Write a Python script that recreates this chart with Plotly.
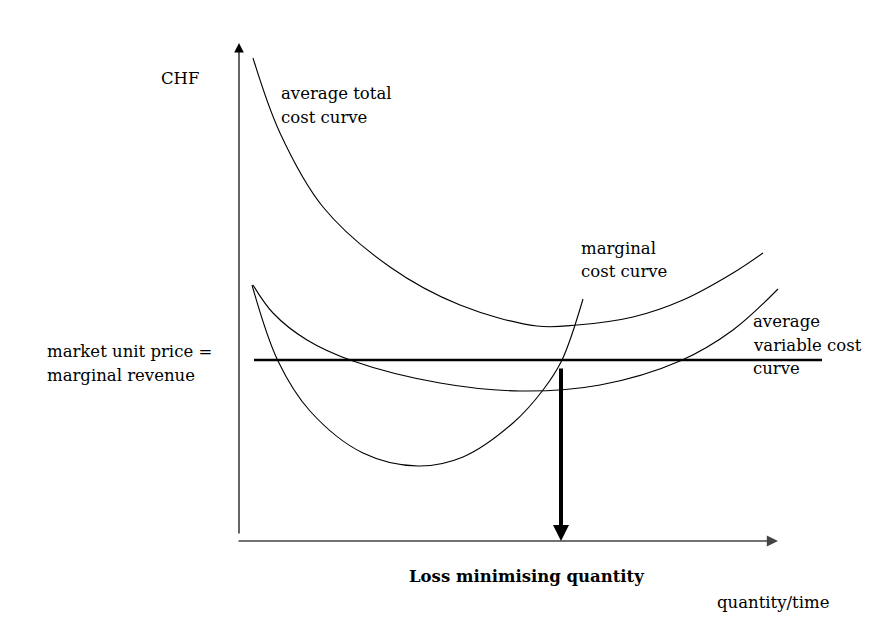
import plotly.graph_objects as go

# Data in notional units (quantity, CHF) with origin at axes crossing
atc_q = [14, 41, 84, 151, 221, 298, 338, 394, 444, 494, 524]
atc_p = [483, 408, 334, 274, 236, 215, 216, 224, 241, 268, 288]

avc_q = [14, 34, 68, 114, 201, 281, 361, 441, 494, 539]
avc_p = [256, 228, 201, 180, 158, 150, 156, 180, 211, 252]

mc_q = [13, 39, 71, 124, 179, 224, 274, 304, 323, 344]
mc_p = [256, 180, 130, 88, 75, 84, 118, 151, 181, 242]

price = 181
price_q = [15, 583]
q_star = 322
q_star_top = 174
x_axis_end = 539
y_axis_end = 498

FONT = "DejaVu Serif"

fig = go.Figure()
for q, p in [(atc_q, atc_p), (avc_q, avc_p), (mc_q, mc_p)]:
    fig.add_trace(go.Scatter(x=q, y=p, mode="lines",
                             line=dict(color="black", width=1.1, shape="spline", smoothing=1.0),
                             hoverinfo="skip", showlegend=False))

# price line
fig.add_trace(go.Scatter(x=price_q, y=[price, price], mode="lines",
                         line=dict(color="black", width=2.5),
                         hoverinfo="skip", showlegend=False))

annotations = []
# y axis arrow
annotations.append(dict(x=0, y=y_axis_end, ax=0, ay=6, xref="x", yref="y", axref="x", ayref="y",
                        showarrow=True, arrowhead=2, arrowsize=1.6, arrowwidth=1.2, arrowcolor="black", text=""))
# x axis arrow
annotations.append(dict(x=x_axis_end, y=0, ax=-2, ay=0, xref="x", yref="y", axref="x", ayref="y",
                        showarrow=True, arrowhead=2, arrowsize=1.4, arrowwidth=1.6, arrowcolor="#444", text=""))
# quantity arrow
annotations.append(dict(x=q_star, y=0, ax=q_star, ay=q_star_top, xref="x", yref="y", axref="x", ayref="y",
                        showarrow=True, arrowhead=2, arrowsize=0.8, arrowwidth=4, arrowcolor="black", text=""))

def label(x, y, text, size=16.5, bold=False):
    annotations.append(dict(x=x, y=y, xref="x", yref="y", text=("<b>%s</b>" % text) if bold else text,
                            showarrow=False, xanchor="left", yanchor="middle", align="left",
                            font=dict(family=FONT, size=size, color="black")))

label(-80, 463, "CHF")
label(40, 448, "average total")
label(40, 424, "cost curve")
label(340, 293, "marginal")
label(340, 270, "cost curve")
label(512, 220, "average")
label(512, 196, "variable cost")
label(512, 173, "curve")
label(-194, 190, "market unit price =")
label(-194, 166, "marginal revenue")
label(168, -35, "Loss minimising quantity", bold=True)
label(476, -61, "quantity/time")

fig.update_layout(
    width=878, height=626,
    margin=dict(l=0, r=0, t=0, b=0),
    paper_bgcolor="white", plot_bgcolor="white",
    xaxis=dict(range=[-239, 639], visible=False, fixedrange=True),
    yaxis=dict(range=[-85, 541], visible=False, fixedrange=True),
    annotations=annotations,
)

fig.write_html("out.html")
